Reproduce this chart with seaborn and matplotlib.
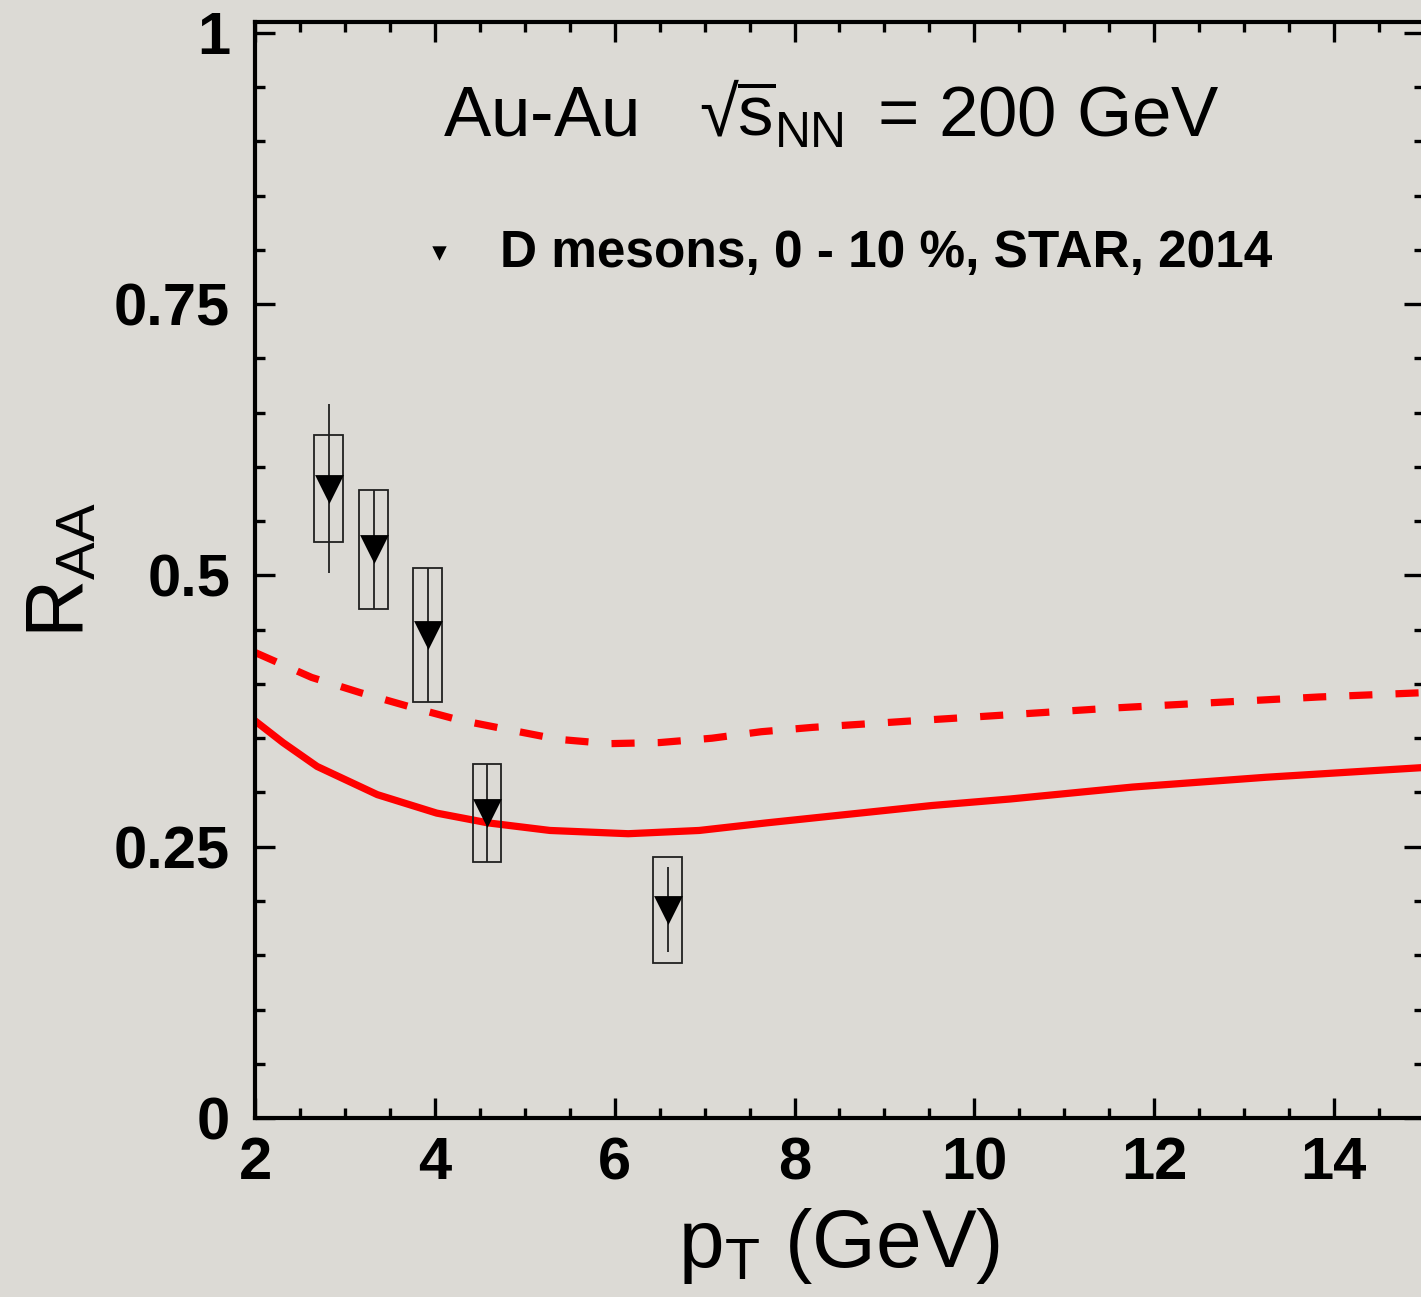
import numpy as np
import pandas as pd
import seaborn as sns
import matplotlib
matplotlib.use("Agg")
import matplotlib.pyplot as plt
from matplotlib.patches import Rectangle
from matplotlib.ticker import MultipleLocator, FixedLocator, FixedFormatter

# ---------------- data ----------------
pt_data = [2.82, 3.32, 3.92, 4.58, 6.59]
raa_data = [0.580, 0.524, 0.445, 0.281, 0.192]
stat_err = [0.078, 0.055, 0.062, 0.045, 0.039]
sys_err = [0.049, 0.055, 0.062, 0.045, 0.049]
box_halfwidth = 0.16

solid_pt = [2.0, 2.31, 2.69, 3.36, 4.02, 4.59, 5.28, 6.15, 6.94, 7.69, 8.61, 9.53, 10.4, 11.76, 13.24, 15.0]
solid_raa = [0.366, 0.346, 0.324, 0.298, 0.281, 0.272, 0.265, 0.262, 0.265, 0.272, 0.280, 0.288, 0.294, 0.305, 0.314, 0.323]

dashed_pt = [2.0, 2.63, 3.17, 3.72, 4.26, 4.81, 5.37, 5.94, 6.5, 7.08, 7.63, 8.2, 8.76, 9.31, 9.89, 10.45, 11.58, 12.7, 13.83, 15.0]
dashed_raa = [0.429, 0.406, 0.392, 0.379, 0.367, 0.358, 0.349, 0.345, 0.346, 0.350, 0.356, 0.360, 0.363, 0.366, 0.369, 0.372, 0.378, 0.383, 0.388, 0.392]

y_ticks = [0, 0.25, 0.5, 0.75, 1.0]
y_ticklabels = ["0", "0.25", "0.5", "0.75", "1"]
x_ticks = [2, 4, 6, 8, 10, 12, 14]
x_ticklabels = ["2", "4", "6", "8", "10", "12", "14"]

legend_label = "D mesons, 0 - 10 %, STAR, 2014"
title_text = "Au-Au   \u221a" + r"$\overline{\mathrm{s}}_{\mathrm{NN}}\,$" + " = 200 GeV"
xlabel = r"p$_{\mathrm{T}}$ (GeV)"
ylabel = r"R$_{\mathrm{AA}}$"

# ---------------- style ----------------
bg = "#dcdad5"
sns.set_theme(style="ticks")
plt.rcParams["font.family"] = ["Liberation Sans", "DejaVu Sans"]
plt.rcParams["mathtext.fontset"] = "custom"
plt.rcParams["mathtext.rm"] = "Liberation Sans"
plt.rcParams["mathtext.it"] = "Liberation Sans:italic"
plt.rcParams["mathtext.bf"] = "Liberation Sans:bold"
plt.rcParams["text.color"] = "black"
plt.rcParams["axes.labelcolor"] = "black"
plt.rcParams["xtick.color"] = "black"
plt.rcParams["ytick.color"] = "black"

fig = plt.figure(figsize=(14.21, 12.97), dpi=100, facecolor=bg)
ax = fig.add_axes([0.1795, 0.138, 1.002 - 0.1795, 0.983 - 0.138])
ax.set_facecolor(bg)

# model curves
sns.lineplot(x=solid_pt, y=solid_raa, color="#ff0000", linewidth=5.2, sort=False, ax=ax, zorder=2)
sns.lineplot(x=dashed_pt, y=dashed_raa, color="#ff0000", linewidth=5.2, sort=False, ax=ax, zorder=2)
ax.lines[-1].set_linestyle((0, (3.2, 3.2)))
ax.lines[-1].set_dash_capstyle("butt")

# systematic boxes
for x, y, s in zip(pt_data, raa_data, sys_err):
    ax.add_patch(Rectangle((x - box_halfwidth, y - s), 2 * box_halfwidth, 2 * s,
                           fill=False, edgecolor="#202020", linewidth=1.3, zorder=3))

# stat errors
ax.errorbar(pt_data, raa_data, yerr=stat_err, fmt="none", ecolor="#202020",
            elinewidth=1.3, capsize=0, zorder=3)

df = pd.DataFrame({"pt": pt_data, "raa": raa_data})
sns.scatterplot(data=df, x="pt", y="raa", marker="v", s=430, color="black",
                linewidth=0, ax=ax, zorder=4, label=legend_label)

# axes
ax.set_xlim(2, 15)
ax.set_ylim(0, 1.01)
ax.xaxis.set_major_locator(FixedLocator(x_ticks))
ax.xaxis.set_major_formatter(FixedFormatter(x_ticklabels))
ax.xaxis.set_minor_locator(MultipleLocator(0.5))
ax.yaxis.set_major_locator(FixedLocator(y_ticks))
ax.yaxis.set_major_formatter(FixedFormatter(y_ticklabels))
ax.yaxis.set_minor_locator(MultipleLocator(0.05))

ax.tick_params(which="both", direction="in", top=True, right=True, colors="black")
ax.tick_params(which="major", length=14.5, width=2.4, labelsize=43)
ax.tick_params(which="minor", length=7, width=2.4)
ax.tick_params(axis="y", which="major", pad=18)
ax.tick_params(axis="x", which="major", pad=13)
for lab in ax.get_xticklabels() + ax.get_yticklabels():
    lab.set_fontweight("bold")
    lab.set_color("black")
for sp in ax.spines.values():
    sp.set_linewidth(3)
    sp.set_color("black")

ax.set_xlabel(xlabel, fontsize=59, color="black")
ax.set_ylabel(ylabel, fontsize=58, color="black")
ax.xaxis.set_label_coords(0.5, -0.08)
ax.yaxis.set_label_coords(-0.133, 0.5)

ax.text(4.09, 0.904, title_text, fontsize=51, color="black", ha="left", va="baseline")

leg = ax.legend(loc="center left", bbox_to_anchor=(3.87, 0.797), bbox_transform=ax.transData,
                frameon=False, markerscale=0.5, handlelength=0.6, handletextpad=0.9,
                borderpad=0, borderaxespad=0, prop={"weight": "bold", "size": 37})
for t in leg.get_texts():
    t.set_color("black")

fig.savefig("out.png", dpi=100, facecolor=bg)
